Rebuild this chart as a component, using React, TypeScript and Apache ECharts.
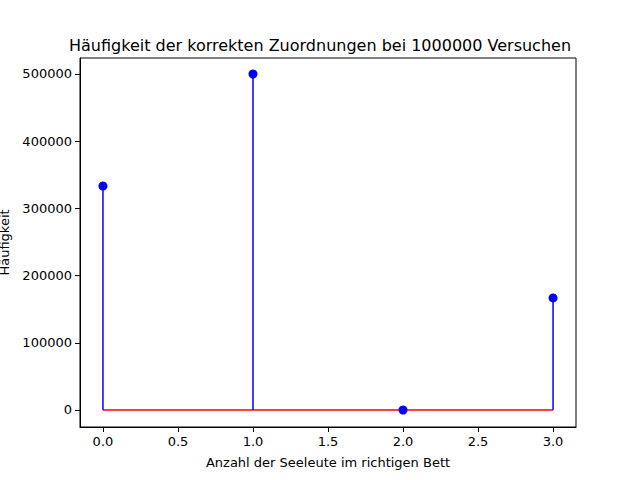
import React, { useEffect, useRef } from "react";
import * as echarts from "echarts";

const treffer = [0, 1, 2, 3];
const haeufigkeit = [333300, 500000, 0, 166700];
const xTicks = [0, 0.5, 1, 1.5, 2, 2.5, 3];
const yTicks = [0, 100000, 200000, 300000, 400000, 500000];

const App: React.FC = () => {
  const chartRef = useRef<HTMLDivElement>(null);

  useEffect(() => {
    document.body.style.margin = "0";
    if (!chartRef.current) return;
    const chart = echarts.init(chartRef.current, undefined, { renderer: "svg" });
    const pts = treffer.map((x, i) => [x, haeufigkeit[i]]);
    const font = "DejaVu Sans";
    chart.setOption({
      animation: false,
      textStyle: { fontFamily: font },
      title: {
        text: "Häufigkeit der korrekten Zuordnungen bei 1000000 Versuchen",
        left: "center",
        top: 32,
        textStyle: { fontSize: 16, fontWeight: "normal", color: "#000", fontFamily: font },
      },
      grid: {
        left: 80, right: 64, top: 58, bottom: 53,
        outerBoundsMode: "none",
        containLabel: false,
        show: true, borderColor: "#000", borderWidth: 1,
      },
      xAxis: {
        type: "value",
        min: -0.153,
        max: 3.153,
        name: "Anzahl der Seeleute im richtigen Bett",
        nameLocation: "middle",
        nameGap: 29,
        nameTextStyle: { fontSize: 13, color: "#000" },
        axisLine: { onZero: false, lineStyle: { color: "#000" } },
        axisTick: { show: true, length: 5, customValues: xTicks, lineStyle: { color: "#000" } },
        axisLabel: {
          fontSize: 13, color: "#000", margin: 8, customValues: xTicks,
          formatter: (v: number) => v.toFixed(1),
        },
        splitLine: { show: false },
      },
      yAxis: {
        type: "value",
        min: -25300,
        max: 523800,
        name: "Häufigkeit",
        nameLocation: "middle",
        nameGap: 68,
        nameRotate: 90,
        nameTextStyle: { fontSize: 13, color: "#000" },
        axisLine: { show: true, onZero: false, lineStyle: { color: "#000" } },
        axisTick: { show: true, length: 5, customValues: yTicks, lineStyle: { color: "#000" } },
        axisLabel: {
          fontSize: 13, color: "#000", margin: 8, customValues: yTicks,
          formatter: (v: number) => String(v),
        },
        splitLine: { show: false },
      },
      series: [
        {
          type: "line",
          data: [[treffer[0], 0], [treffer[treffer.length - 1], 0]],
          symbol: "none",
          lineStyle: { color: "red", width: 1.5 },
          z: 2,
        },
        {
          type: "custom",
          data: pts,
          renderItem: (params: any, api: any) => {
            const top = api.coord([api.value(0), api.value(1)]);
            const base = api.coord([api.value(0), 0]);
            return {
              type: "line",
              shape: { x1: top[0], y1: top[1], x2: base[0], y2: base[1] },
              style: { stroke: "blue", lineWidth: 1.5 },
            };
          },
          z: 3,
        },
        {
          type: "scatter",
          data: pts,
          symbolSize: 9,
          itemStyle: { color: "blue", opacity: 1 },
          z: 4,
        },
      ],
    });
    return () => chart.dispose();
  }, []);

  return <div ref={chartRef} style={{ width: 640, height: 480 }} />;
};

export default App;
